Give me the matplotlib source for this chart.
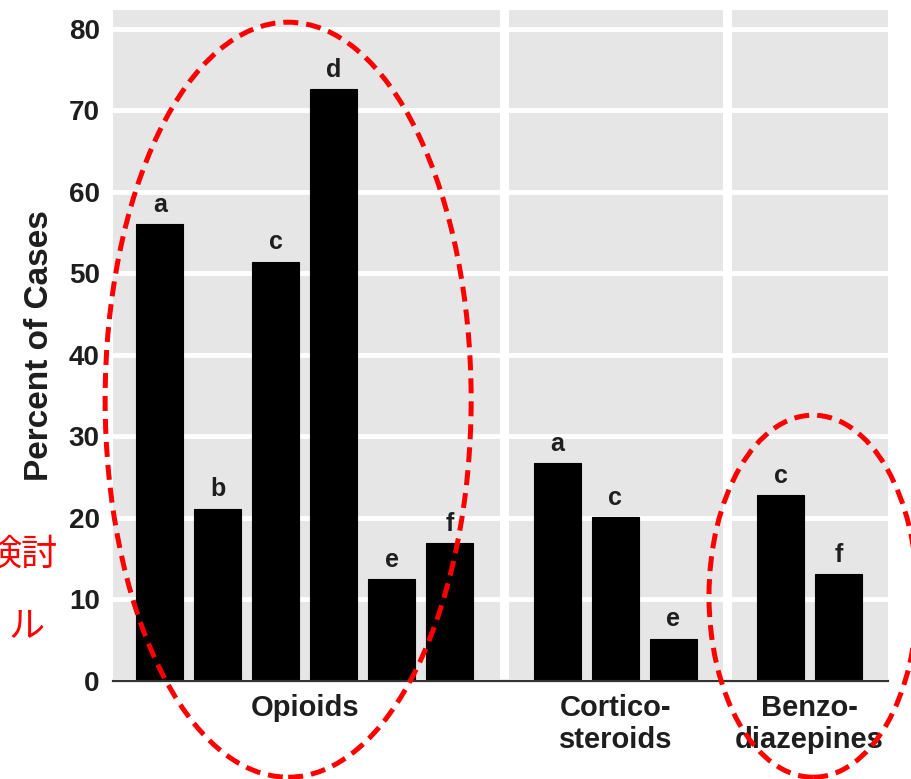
import matplotlib
matplotlib.use("Agg")
import matplotlib.pyplot as plt
from matplotlib.patches import Ellipse
import numpy as np

# drug classes and the pathway letters reported in each
groups = ["Opioids", "Cortico-\nsteroids", "Benzo-\ndiazepines"]
opioid_letters = ["a", "b", "c", "d", "e", "f"]
opioid_pct = [56.0, 21.1, 51.4, 72.6, 12.5, 16.9]
cortico_letters = ["a", "c", "e"]
cortico_pct = [26.7, 20.1, 5.2]
benzo_letters = ["c", "f"]
benzo_pct = [22.8, 13.1]

yticks = [0, 10, 20, 30, 40, 50, 60, 70, 80]

plt.rcParams["font.family"] = ["Liberation Sans", "DejaVu Sans"]

ink = "#1e1e1e"
panel = "#e6e6e6"

fig = plt.figure(figsize=(9.11, 7.79), dpi=100)
ax = fig.add_axes([0.124, 0.1258, 0.8507, 0.8614])
ax.set_facecolor(panel)

# lay the groups out side by side with a wider gap between classes
gap = 0.85
width = 0.81
series = [(opioid_letters, opioid_pct), (cortico_letters, cortico_pct), (benzo_letters, benzo_pct)]
start = 0.0
centers = []
edges = []
for letters, pct in series:
    x = start + np.arange(len(pct))
    ax.bar(x, pct, width=width, color="black", edgecolor="black", linewidth=0.8, zorder=3)
    for xi, v, lab in zip(x, pct, letters):
        ax.annotate(lab, (xi, v), xytext=(0, 9), textcoords="offset points",
                    ha="center", va="baseline", fontsize=18, fontweight="bold",
                    color=ink, zorder=4)
    centers.append(x.mean())
    edges.append((x[0], x[-1]))
    start = x[-1] + 1 + gap

# white separators between drug classes
for (a0, a1), (b0, b1) in zip(edges[:-1], edges[1:]):
    ax.axvline((a1 + b0) / 2, color="white", lw=6.5, zorder=1)

ax.set_xlim(-0.81, 12.55)
ax.set_ylim(0, 82.3)
ax.set_yticks(yticks)
ax.set_yticklabels([str(t) for t in yticks], fontsize=20, fontweight="bold", color=ink)
ax.yaxis.grid(True, color="white", lw=3.5, zorder=1)
ax.set_axisbelow(True)
ax.tick_params(axis="y", length=0, pad=9.5)

ax.set_xticks(centers)
ax.set_xticklabels(groups, fontsize=21, fontweight="bold", color=ink, linespacing=1.2)
ax.tick_params(axis="x", length=0, pad=9)

ax.set_ylabel("Percent of Cases", fontsize=24, fontweight="bold", color=ink, labelpad=10)

for side in ["top", "right", "left"]:
    ax.spines[side].set_visible(False)
ax.spines["bottom"].set_color("#333333")
ax.spines["bottom"].set_linewidth(1.6)
ax.spines["bottom"].set_zorder(5)

# red dashed rings drawn over the opioid and benzodiazepine groups
ring = dict(fill=False, edgecolor="#ff0000", lw=3.6, linestyle=(0, (3, 1.6)),
            clip_on=False, zorder=6)
ax.add_patch(Ellipse((2.21, 34.5), 6.31, 92.6, **ring))
ax.add_patch(Ellipse((11.26, 10.4), 3.59, 44.4, **ring))

# side note in red, partly running off the left edge
jp = ["Noto Sans CJK JP", "DejaVu Sans"]
fig.text(58 / 911, 1 - 555 / 779, "検討", ha="right", va="center",
         fontsize=26, color="#ff0000", family=jp)
fig.text(45 / 911, 1 - 626 / 779, "ル", ha="right", va="center",
         fontsize=26, color="#ff0000", family=jp)

fig.savefig("out.png", dpi=100)
